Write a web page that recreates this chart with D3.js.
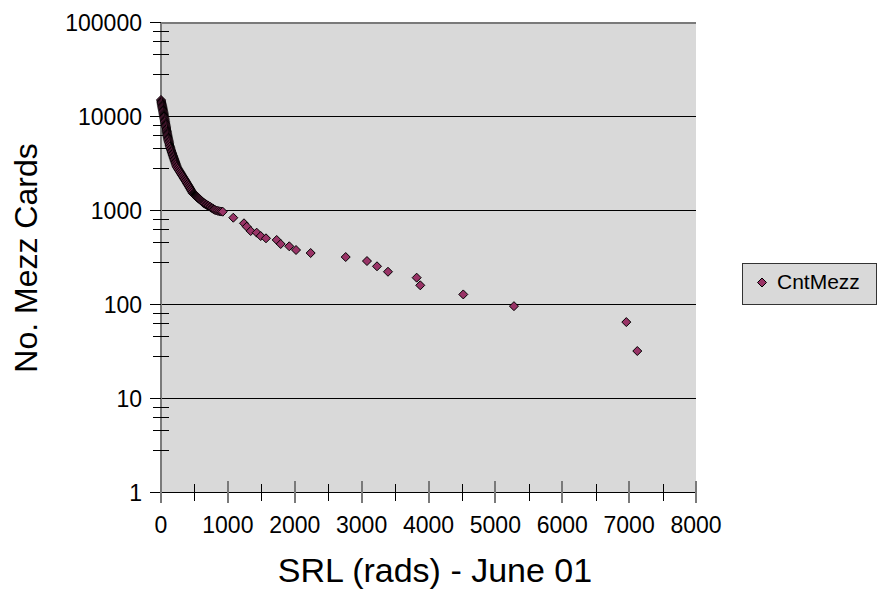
<!DOCTYPE html>
<html><head><meta charset="utf-8">
<script src="https://cdn.jsdelivr.net/npm/d3@7"></script>
<style>
body{margin:0;background:#fff}
svg{display:block}
text{font-family:Arial,"Liberation Sans",sans-serif;fill:#000}
</style>
</head><body>
<svg id="c" width="880" height="596"></svg>
<script>
// SRL (rads) values
const srl = [
  0,3,6,9,12,15,18,21,24,27,30,33,36,39,41,43,45,
  48,51,54,57,60,63,66,69,72,75,78,81,84,86,88,90,
  93,96,99,102,105,108,112,116,120,124,129,134,139,144,150,
  155,160,166,171,176,182,187,192,198,203,208,214,219,224,230,235,
  244,253,263,273,282,292,301,311,320,330,340,349,359,
  368,377,386,395,405,414,423,432,441,450,460,469,478,
  486,494,502,511,519,527,536,544,552,560,569,577,585,593,602,610,618,626,635,643,
  657,671,685,699,713,727,741,755,768,781,795,808,
  830,852,875,900,923,
  1081,1241,1282,1341,1431,1491,1570,1730,1790,1918,2019,2238,2762,3080,3230,3394,3823,3877,4520,5278,6958,7122
];
// CntMezz values
const cntMezz = [
  15000,14600,14200,13850,13500,13150,12800,12500,12200,11900,11600,11300,11000,10750,10500,10250,10000,
  9750,9500,9250,9000,8800,8550,8350,8150,7950,7750,7550,7350,7150,6950,6800,6625,
  6450,6300,6150,6000,5850,5700,5550,5400,5250,5100,4950,4800,4650,4520,4400,
  4290,4185,4080,3980,3880,3785,3690,3600,3510,3425,3340,3260,3180,3100,3000,2925,
  2850,2780,2710,2640,2580,2515,2450,2390,2330,2275,2215,2160,2110,
  2060,2010,1960,1910,1865,1820,1775,1730,1690,1645,1605,1565,1524,
  1505,1487,1469,1451,1433,1416,1399,1382,1365,1349,1333,1317,1301,1285,1270,1254,1239,1224,1210,1195,
  1178,1163,1147,1132,1117,1100,1085,1069,1054,1040,1026,1012,
  1000,990,980,975,971,
  838,731,673,605,581,535,506,486,440,416,380,353,320,290,255,223,193,160,128,96,65,32
];
const seriesName = "CntMezz";
const xTicks = [0,1000,2000,3000,4000,5000,6000,7000,8000];
const xMinorTicks = [500,1500,2500,3500,4500,5500,6500,7500];
const yTicks = [1,10,100,1000,10000,100000];
const yMinorFactors = [8.2,6.4,4.6,2.8];
const xTitle = "SRL (rads) - June 01";
const yTitle = "No. Mezz Cards";

const data = srl.map((v,i)=>({x:v,y:cntMezz[i]}));

const svg = d3.select("#c");
const L=161,R=696,T=22.5,B=492.5;
const x = d3.scaleLinear().domain([0,8000]).range([L,R]);
const y = d3.scaleLog().domain([1,100000]).range([B,T]);

// plot area
svg.append("rect").attr("x",L).attr("y",T).attr("width",R-L).attr("height",B-T).attr("fill","#d9d9d9");

// gridlines
svg.append("g").selectAll("line").data(yTicks.filter(v=>v>1&&v<100000)).join("line")
  .attr("x1",L).attr("x2",R).attr("y1",d=>y(d)).attr("y2",d=>y(d))
  .attr("stroke","#000").attr("stroke-width",1);

// top border
svg.append("line").attr("x1",L).attr("x2",R).attr("y1",23).attr("y2",23).attr("stroke","#7a7a7a").attr("stroke-width",2);
// left axis
svg.append("line").attr("x1",161).attr("x2",161).attr("y1",T).attr("y2",B).attr("stroke","#7a7a7a").attr("stroke-width",2);

// y minor ticks
const yMinor=[];
yTicks.slice(1).forEach(t=>yMinorFactors.forEach(f=>yMinor.push(t/10*f)));
svg.append("g").selectAll("line").data(yMinor).join("line")
  .attr("x1",153).attr("x2",169).attr("y1",d=>Math.round(y(d))+0.5).attr("y2",d=>Math.round(y(d))+0.5)
  .attr("stroke","#000").attr("stroke-width",1);
// y major ticks
svg.append("g").selectAll("line").data(yTicks).join("line")
  .attr("x1",150).attr("x2",161).attr("y1",d=>y(d)).attr("y2",d=>y(d))
  .attr("stroke","#000").attr("stroke-width",1);
// y labels
svg.append("g").selectAll("text").data(yTicks).join("text")
  .attr("x",142).attr("y",d=>y(d)).attr("dy","0.36em")
  .attr("text-anchor","end").attr("font-size",23).text(d=>d);

// bottom axis line
svg.append("line").attr("x1",L).attr("x2",R).attr("y1",B).attr("y2",B).attr("stroke","#000").attr("stroke-width",1);
// x minor ticks
svg.append("g").selectAll("line").data(xMinorTicks).join("line")
  .attr("x1",d=>Math.round(x(d))+0.5).attr("x2",d=>Math.round(x(d))+0.5).attr("y1",484).attr("y2",501)
  .attr("stroke","#000").attr("stroke-width",1);
// x major ticks
svg.append("g").selectAll("line").data(xTicks).join("line")
  .attr("x1",d=>Math.round(x(d))).attr("x2",d=>Math.round(x(d))).attr("y1",481).attr("y2",503)
  .attr("stroke","#7a7a7a").attr("stroke-width",2);
// x labels
svg.append("g").selectAll("text").data(xTicks).join("text")
  .attr("x",d=>x(d)).attr("y",533)
  .attr("text-anchor","middle").attr("font-size",23).text(d=>d);

// markers
const diamond = "M0,-4.5L4.5,0L0,4.5L-4.5,0Z";
svg.append("g").selectAll("path").data(data).join("path")
  .attr("d",diamond)
  .attr("transform",d=>`translate(${x(d.x)},${y(d.y)})`)
  .attr("fill","#993366").attr("stroke","#000").attr("stroke-width",1);

// titles
svg.append("text").attr("x",435).attr("y",582).attr("text-anchor","middle").attr("font-size",34).text(xTitle);
svg.append("text").attr("transform","translate(37,258) rotate(-90)").attr("text-anchor","middle").attr("font-size",32).text(yTitle);

// legend
const lg = svg.append("g");
lg.append("rect").attr("x",742.5).attr("y",263.5).attr("width",134).attr("height",41)
  .attr("fill","#d9d9d9").attr("stroke","#333").attr("stroke-width",1);
lg.append("path").attr("d",diamond).attr("transform","translate(762,282.5)")
  .attr("fill","#993366").attr("stroke","#000").attr("stroke-width",1);
lg.append("text").attr("x",777).attr("y",289).attr("font-size",21).text(seriesName);
</script>
</body></html>
